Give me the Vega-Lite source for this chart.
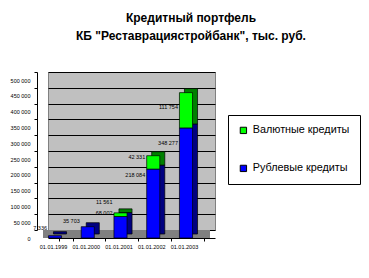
{
  "$schema": "https://vega.github.io/schema/vega-lite/v6.json",
  "width": 167,
  "height": 158,
  "autosize": {"type": "none"},
  "padding": {"left": 48, "top": 72, "right": 154, "bottom": 48},
  "background": "white",
  "config": {
    "locale": {"number": {"decimal": ",", "thousands": " ", "grouping": [3], "currency": ["", ""]}},
    "font": "Liberation Sans",
    "view": {"fill": "#C0C0C0", "stroke": "#808080", "strokeWidth": 1}
  },
  "title": {
    "text": ["Кредитный портфель", "КБ \"Реставрациястройбанк\", тыс. руб."],
    "fontSize": 12,
    "fontWeight": "bold",
    "font": "Liberation Sans",
    "anchor": "middle",
    "dx": 59.5,
    "offset": 29,
    "lineHeight": 18,
    "color": "black"
  },
  "data": {
    "values": [
      {"date": "01.01.1999", "type": "Рублевые кредиты", "value": 7336},
      {"date": "01.01.2000", "type": "Рублевые кредиты", "value": 35703},
      {"date": "01.01.2001", "type": "Рублевые кредиты", "value": 68002},
      {"date": "01.01.2001", "type": "Валютные кредиты", "value": 11561},
      {"date": "01.01.2002", "type": "Рублевые кредиты", "value": 218084},
      {"date": "01.01.2002", "type": "Валютные кредиты", "value": 42331},
      {"date": "01.01.2003", "type": "Рублевые кредиты", "value": 348277},
      {"date": "01.01.2003", "type": "Валютные кредиты", "value": 111754}
    ]
  },
  "resolve": {"scale": {"y": "independent"}},
  "layer": [
    {
      "layer": [
        {
          "data": {"values": [{}]},
          "mark": {"type": "rect", "color": "#808080", "y2Offset": 8, "xOffset": -5, "x2Offset": -5},
          "encoding": {
            "x": {"value": 0},
            "x2": {"value": "width"},
            "y": {"datum": 0, "type": "quantitative"},
            "y2": {"datum": 0}
          }
        },
        {
          "mark": {"type": "bar", "xOffset": -6, "yOffset": 4, "y2Offset": 4, "stroke": "black", "strokeWidth": 0.7},
          "encoding": {
            "x": {
              "field": "date", "type": "ordinal",
              "scale": {"paddingInner": 0.6, "paddingOuter": 0.35},
              "axis": {
                "title": null, "labelAngle": 0, "offset": 8, "tickBand": "extent", "tickOffset": -11, "labelOffset": -13,
                "labelFontSize": 5.5, "tickSize": 3, "labelPadding": 3,
                "domainColor": "black", "tickColor": "black", "labelColor": "black"
              }
            },
            "y": {
              "field": "value", "type": "quantitative", "stack": "zero",
              "scale": {"domain": [0, 500000], "nice": false},
              "axis": {
                "title": null, "offset": 11, "labelOffset": 8, "tickCount": 10, "format": ",d",
                "grid": true, "gridColor": "black", "gridOpacity": 1, "gridWidth": 1,
                "labelFontSize": 5.5, "tickSize": 3, "labelPadding": 4,
                "domainColor": "black", "tickColor": "black", "labelColor": "black"
              }
            },
            "order": {"field": "type", "sort": "descending"},
            "fill": {
              "condition": {"test": "datum.type === 'Рублевые кредиты'", "value": "#000080"},
              "value": "#008000"
            }
          }
        },
        {
          "mark": {"type": "bar", "xOffset": -11, "yOffset": 8, "y2Offset": 8, "stroke": "black", "strokeWidth": 0.7},
          "encoding": {
            "x": {"field": "date", "type": "ordinal"},
            "y": {"field": "value", "type": "quantitative", "stack": "zero"},
            "order": {"field": "type", "sort": "descending"},
            "color": {
              "field": "type", "type": "nominal",
              "scale": {"domain": ["Валютные кредиты", "Рублевые кредиты"], "range": ["#00FF00", "#0000FF"]},
              "legend": {
                "orient": "none", "legendX": 180, "legendY": 43, "title": null,
                "strokeColor": "black", "fillColor": "white", "padding": 10, "rowPadding": 26,
                "symbolType": "square", "symbolSize": 40, "symbolStrokeColor": "black", "symbolStrokeWidth": 1,
                "labelFontSize": 10.8, "labelFont": "Liberation Sans", "labelColor": "black", "labelOffset": 4
              }
            }
          }
        }
      ]
    },
    {
      "transform": [
        {"stack": "value", "groupby": ["date"], "sort": [{"field": "type", "order": "descending"}], "as": ["v0", "v1"]}
      ],
      "layer": [
        {
          "transform": [{"filter": "datum.type === 'Рублевые кредиты'"}],
          "mark": {"type": "text", "align": "right", "baseline": "middle", "xOffset": -19, "yOffset": 0, "fontSize": 5.5, "color": "black"},
          "encoding": {
            "x": {"field": "date", "type": "ordinal"},
            "y": {"field": "v1", "type": "quantitative", "scale": {"domain": [0, 632000], "nice": false}, "axis": null},
            "text": {"field": "value", "type": "quantitative", "format": ",d"}
          }
        },
        {
          "transform": [{"filter": "datum.type === 'Валютные кредиты'"}],
          "mark": {"type": "text", "align": "right", "baseline": "middle", "xOffset": -19, "yOffset": -8, "fontSize": 5.5, "color": "black"},
          "encoding": {
            "x": {"field": "date", "type": "ordinal"},
            "y": {"field": "v1", "type": "quantitative", "axis": null},
            "text": {"field": "value", "type": "quantitative", "format": ",d"}
          }
        }
      ]
    }
  ]
}
